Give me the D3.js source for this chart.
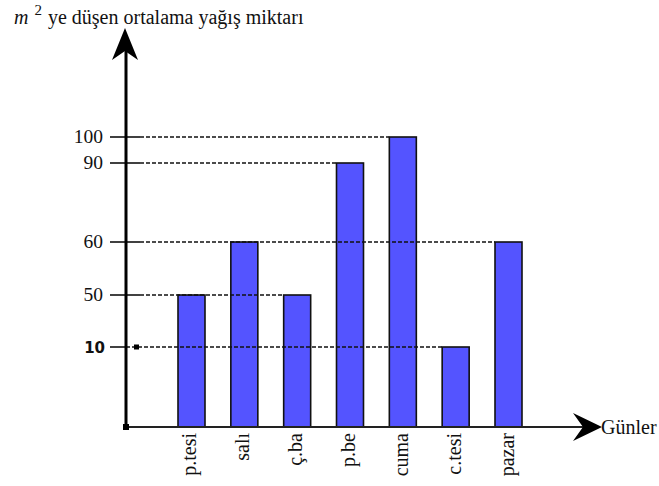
<!DOCTYPE html>
<html><head><meta charset="utf-8">
<script src="https://cdn.jsdelivr.net/npm/d3@7"></script>
<style>body{margin:0;background:#fff}svg{display:block}</style>
</head><body>
<svg id="c" width="659" height="486"></svg>
<script>
const days = ["p.tesi","salı","ç.ba","p.be","cuma","c.tesi","pazar"];
const values = [50,60,50,90,100,10,60];
const tickValues = [10,50,60,90,100];
const tickLabels = ["10","50","60","90","100"];
const yTitleRest = "ye düşen ortalama yağış miktarı";
const xTitle = "Günler";

const svg = d3.select("#c");
const font = "'Liberation Serif', 'DejaVu Serif', serif";
const axisX = 126, baseY = 427;

// Non-uniform y axis as drawn in the original
const y = d3.scaleLinear().domain([0,10,50,60,90,100]).range([427,347,295,242,163,137]);
const x = d3.scaleBand().domain(days).range([178,522]).paddingInner(0.489).paddingOuter(0);

// bars
svg.selectAll("rect.bar").data(days).join("rect")
  .attr("x", d => x(d)).attr("width", x.bandwidth())
  .attr("y", (d,i) => y(values[i])).attr("height", (d,i) => y(0) - y(values[i]))
  .attr("fill", "#5454ff").attr("stroke", "#111").attr("stroke-width", 1.6);

// guide lines (to farthest bar having that value)
tickValues.forEach((v,k) => {
  let last = -1;
  values.forEach((val,i) => { if (val === v) last = i; });
  const endX = last >= 0 ? x(days[last]) : 150;
  const yy = y(v);
  const solidEnd = v === 10 ? axisX : 140;
  svg.append("line").attr("x1", 110).attr("x2", solidEnd).attr("y1", yy).attr("y2", yy)
    .attr("stroke", "#111").attr("stroke-width", 1.6);
  svg.append("line").attr("x1", solidEnd).attr("x2", endX).attr("y1", yy).attr("y2", yy)
    .attr("stroke", "#111").attr("stroke-width", 1.5).attr("stroke-dasharray", "4,2");
  if (v === 10) {
    svg.append("rect").attr("x", 134).attr("y", yy-2.5).attr("width", 5).attr("height", 5).attr("fill", "#000");
  }
  svg.append("text").attr("x", v === 10 ? 105 : 103).attr("y", yy + 6)
    .attr("text-anchor", "end")
    .style("font-family", v === 10 ? "'DejaVu Sans', sans-serif" : font)
    .attr("font-weight", v === 10 ? "bold" : "normal")
    .attr("font-size", v === 10 ? 15 : 19.5).attr("fill", "#111").text(tickLabels[k]);
});

// x axis
svg.append("line").attr("x1", axisX).attr("x2", 585).attr("y1", baseY).attr("y2", baseY)
  .attr("stroke", "#222").attr("stroke-width", 2);
svg.append("path").attr("d", "M602,427 L573,413 L583,427 L573,441 Z").attr("fill", "#000");
svg.append("text").attr("x", 601).attr("y", 434).style("font-family", font).attr("font-size", 20)
  .attr("fill", "#111").text(xTitle);

// y axis
svg.append("line").attr("x1", axisX).attr("x2", axisX).attr("y1", baseY).attr("y2", 45)
  .attr("stroke", "#000").attr("stroke-width", 3);
svg.append("path").attr("d", "M125,28 L112,60 L125,51 L138,60 Z").attr("fill", "#000");
svg.append("rect").attr("x", axisX-3).attr("y", baseY-3).attr("width", 6).attr("height", 6).attr("fill", "#000");

// x labels rotated
svg.selectAll("text.xl").data(days).join("text")
  .attr("transform", d => `translate(${x(d)+x.bandwidth()/2+5},433) rotate(-90)`)
  .attr("text-anchor", "end").style("font-family", font).attr("font-size", 20)
  .attr("fill", "#111").text(d => d);

// y title
const t = svg.append("text").attr("x", 14).attr("y", 24).style("font-family", font).attr("font-size", 20).attr("fill", "#111");
t.append("tspan").attr("font-style", "italic").text("m");
t.append("tspan").attr("dx", 6).attr("dy", -9).attr("font-size", 15).text("2");
t.append("tspan").attr("dx", 6).attr("dy", 9).text(yTitleRest);
</script>
</body></html>
